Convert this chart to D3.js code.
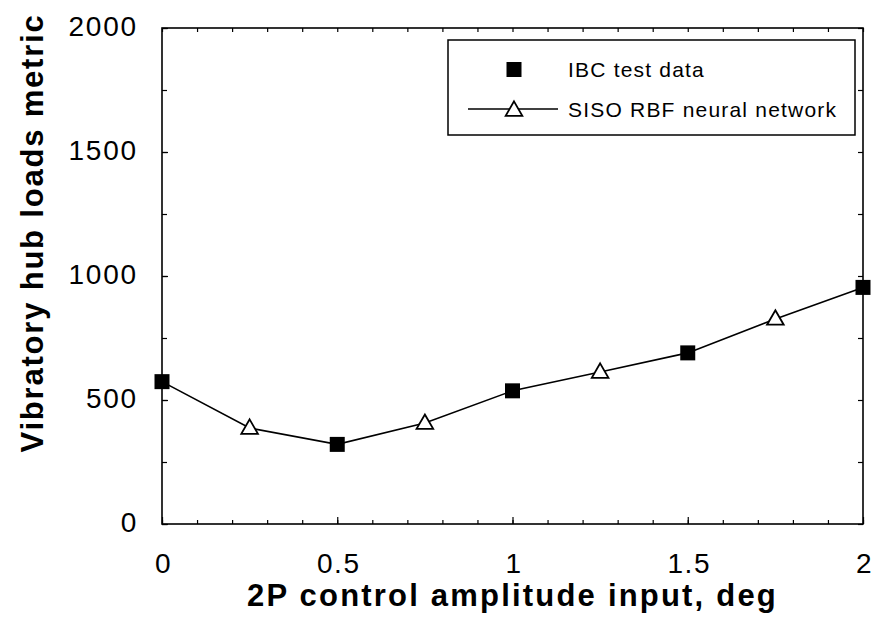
<!DOCTYPE html>
<html>
<head>
<meta charset="utf-8">
<script src="https://cdn.jsdelivr.net/npm/d3@7"></script>
<style>
  body { margin: 0; background: #fff; }
  text { font-family: "Liberation Sans", Arial, Helvetica, sans-serif; fill: #000; }
</style>
</head>
<body>
<div id="chart"></div>
<script>
// IBC test data (squares)
var ibcX = [0, 0.5, 1, 1.5, 2];
var ibcY = [574, 321, 537, 690, 954];
// SISO RBF neural network (triangles), the line also runs through the IBC points
var rbfX = [0.25, 0.75, 1.25, 1.75];
var rbfY = [387, 407, 613, 827];

var xTicks = [0, 0.5, 1, 1.5, 2];
var xTickLabels = ["0", "0.5", "1", "1.5", "2"];
var yTicks = [0, 500, 1000, 1500, 2000];
var yTickLabels = ["0", "500", "1000", "1500", "2000"];
var legendLabels = ["IBC test data", "SISO RBF neural network"];

//Set Margins
var margin = {top: 28, right: 10, bottom: 96, left: 162},
    width = 873 - margin.left - margin.right,
    height = 620 - margin.top - margin.bottom;

var svg = d3.select("#chart")
  .append("svg")
    .attr("width", 873)
    .attr("height", 620)
  .append("g")
    .attr("transform", "translate(" + margin.left + "," + margin.top + ")");

var x = d3.scaleLinear().domain([0, 2]).range([0, width]);
var y = d3.scaleLinear().domain([0, 2000]).range([height, 0]);

var minorX = d3.range(0, 21).map(function(i) { return i / 10; });
var minorY = d3.range(0, 9).map(function(i) { return i * 250; });

// minor ticks on all four sides (pointing inward)
function cleanup(g) { g.select(".domain").remove(); g.selectAll("line").attr("stroke", "#000").attr("stroke-width", 1.2); }
svg.append("g").attr("transform", "translate(0," + height + ")")
  .call(d3.axisBottom(x).tickValues(minorX).tickSizeInner(-4).tickSizeOuter(0).tickFormat(""))
  .call(cleanup);
svg.append("g")
  .call(d3.axisTop(x).tickValues(minorX).tickSizeInner(-4).tickSizeOuter(0).tickFormat(""))
  .call(cleanup);
svg.append("g")
  .call(d3.axisLeft(y).tickValues(minorY).tickSizeInner(-5).tickSizeOuter(0).tickFormat(""))
  .call(cleanup);
svg.append("g").attr("transform", "translate(" + width + ",0)")
  .call(d3.axisRight(y).tickValues(minorY).tickSizeInner(-5).tickSizeOuter(0).tickFormat(""))
  .call(cleanup);

// major ticks with labels
var xAxis = svg.append("g").attr("transform", "translate(0," + height + ")")
  .call(d3.axisBottom(x).tickValues(xTicks).tickSizeInner(-7).tickSizeOuter(0).tickPadding(29)
    .tickFormat(function(d, i) { return xTickLabels[i]; }))
  .call(cleanup);
xAxis.selectAll("text").attr("font-size", 28).style("letter-spacing", "1.5px").attr("dx", 1);

var yAxis = svg.append("g")
  .call(d3.axisLeft(y).tickValues(yTicks).tickSizeInner(-6).tickSizeOuter(0).tickPadding(24)
    .tickFormat(function(d, i) { return yTickLabels[i]; }))
  .call(cleanup);
yAxis.selectAll("text").attr("font-size", 28).attr("dy", "0.25em").style("letter-spacing", "1.8px");

// frame
svg.append("rect")
  .attr("width", width).attr("height", height)
  .attr("fill", "none").attr("stroke", "#000").attr("stroke-width", 1.6);

// axis titles
svg.append("text")
  .attr("x", width / 2)
  .attr("y", height + 82)
  .attr("text-anchor", "middle")
  .attr("font-size", 31)
  .attr("font-weight", "bold")
  .style("letter-spacing", "2.2px")
  .text("2P control amplitude input, deg");

svg.append("text")
  .attr("transform", "translate(" + (43 - margin.left) + "," + (233 - margin.top) + ") rotate(-90)")
  .attr("text-anchor", "middle")
  .attr("font-size", 31)
  .attr("font-weight", "bold")
  .style("letter-spacing", "1.8px")
  .text("Vibratory hub loads metric");

// line through all points in order of x
var linePts = ibcX.map(function(d, i) { return [d, ibcY[i]]; })
  .concat(rbfX.map(function(d, i) { return [d, rbfY[i]]; }))
  .sort(function(a, b) { return a[0] - b[0]; });

svg.append("path")
  .datum(linePts)
  .attr("fill", "none")
  .attr("stroke", "#000")
  .attr("stroke-width", 1.6)
  .attr("d", d3.line().x(function(d) { return x(d[0]); }).y(function(d) { return y(d[1]); }));

var square = d3.symbol(d3.symbolSquare, 225);
var triangle = d3.symbol(d3.symbolTriangle, 120);

svg.selectAll(".rbf")
  .data(rbfX)
  .enter().append("path")
    .attr("class", "rbf")
    .attr("d", triangle)
    .attr("transform", function(d, i) { return "translate(" + x(d) + "," + (y(rbfY[i]) + 1) + ")"; })
    .attr("fill", "#fff").attr("stroke", "#000").attr("stroke-width", 1.8);

svg.selectAll(".ibc")
  .data(ibcX)
  .enter().append("path")
    .attr("class", "ibc")
    .attr("d", square)
    .attr("transform", function(d, i) { return "translate(" + x(d) + "," + y(ibcY[i]) + ")"; })
    .attr("fill", "#000");

// legend
var legend = svg.append("g").attr("transform", "translate(" + (448 - margin.left) + "," + (40 - margin.top) + ")");
legend.append("rect")
  .attr("width", 407).attr("height", 95)
  .attr("fill", "#fff").attr("stroke", "#000").attr("stroke-width", 1.5);
legend.append("path").attr("d", square).attr("transform", "translate(66,29.5)").attr("fill", "#000");
legend.append("line").attr("x1", 20).attr("x2", 110).attr("y1", 69).attr("y2", 69)
  .attr("stroke", "#000").attr("stroke-width", 1.6);
legend.append("path").attr("d", triangle).attr("transform", "translate(66,71)")
  .attr("fill", "#fff").attr("stroke", "#000").attr("stroke-width", 1.8);
legend.selectAll(".lab")
  .data(legendLabels)
  .enter().append("text")
    .attr("class", "lab")
    .attr("x", 120)
    .attr("y", function(d, i) { return 37 + i * 40; })
    .attr("font-size", 21)
    .style("letter-spacing", "1.2px")
    .text(function(d) { return d; });
</script>
</body>
</html>
